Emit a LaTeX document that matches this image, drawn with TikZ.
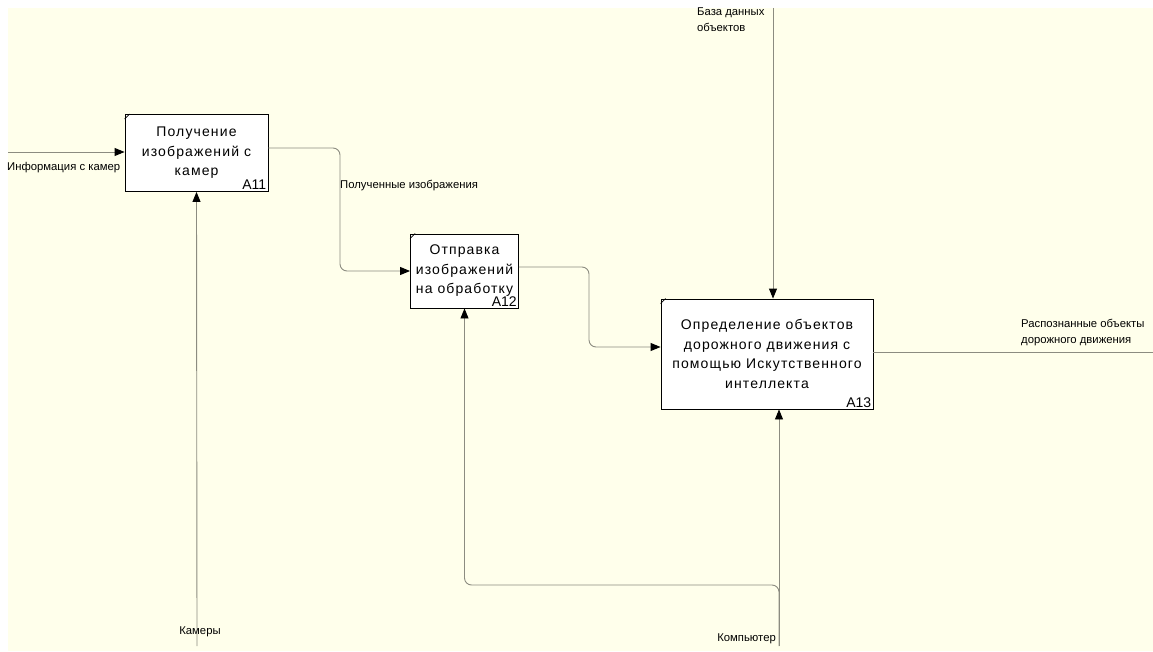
\documentclass[tikz,border=0pt]{standalone}
\usepackage{fontspec}
\setmainfont{Liberation Sans}
\newfontfamily\boxfont[LetterSpace=8]{Liberation Sans}
\usetikzlibrary{arrows.meta}
\definecolor{paper}{HTML}{FFFFEB}
\definecolor{linegray}{HTML}{8C8C80}
\tikzset{
  func/.style={draw=black, fill=white, line width=0.9pt, inner sep=0pt, align=center,
    font=\boxfont\fontsize{14}{19.5}\selectfont},
  flow/.style={draw=linegray, line width=0.9pt, rounded corners=7pt,
    -{Triangle[length=10pt,width=8pt,color=black]}},
  plain/.style={draw=linegray, line width=0.9pt},
  lbl/.style={font=\fontsize{11.3}{16}\selectfont, inner sep=0pt, align=left},
  code/.style={font=\fontsize{14}{14}\selectfont, anchor=south east, inner sep=2pt}
}

\begin{document}
\begin{tikzpicture}[x=1pt,y=-1pt]
\useasboundingbox (0,0) rectangle (1153,652);
\fill[paper] (8,8) rectangle (1153,651);

\node[func, minimum width=143pt, minimum height=77pt] (a11) at (196.5,153) {Получение\\изображений с\\камер};
\node[func, minimum width=108pt, minimum height=74pt] (a12) at (464.5,271) {Отправка\\изображений\\на обработку};
\node[func, minimum width=212pt, minimum height=110pt] (a13) at (767,354) {Определение объектов\\дорожного движения с\\помощью Искутственного\\интеллекта};

\foreach \b in {a11,a12,a13} \draw[line width=0.6pt] ([yshift=-5pt]\b.north west) -- ([xshift=5pt]\b.north west);
\foreach \b/\t in {a11/A11,a12/A12,a13/A13} \node[code] at (\b.south east) {\t};

\coordinate (info) at (8,152);
\coordinate (cam) at (197,646);
\coordinate (j1) at (340,148);
\coordinate (j2) at (589,267);
\coordinate (db) at (773,8);
\coordinate (comp) at (779,646);
\coordinate (fork) at (779,585);
\coordinate (out) at (1153,352);

\draw[flow] (info) -- (info -| a11.west);
\draw[flow] (cam) -- (a11.south);
\draw[flow] (a11.east |- j1) -- (j1) |- (a12.west);
\draw[flow] (a12.east |- j2) -- (j2) |- (a13.west |- 0,347);
\draw[flow] (db) -- (db |- a13.north);
\draw[flow] (comp) -- (comp |- a13.south);
\draw[flow] (comp) |- (fork -| a12.south) -- (a12.south);
\draw[plain] (out -| a13.east) -- (out);

\node[lbl, anchor=west] at (7,168) {Информация с камер};
\node[lbl, anchor=west] at (340,186) {Полученные изображения};
\node[lbl, anchor=north west] at (697,8) {База данных\\объектов};
\node[lbl, anchor=west] at (1021,333) {Распознанные объекты\\дорожного движения};
\node[lbl] at (200,632) {Камеры};
\node[lbl, anchor=east] at (776,639) {Компьютер};
\end{tikzpicture}
\end{document}
